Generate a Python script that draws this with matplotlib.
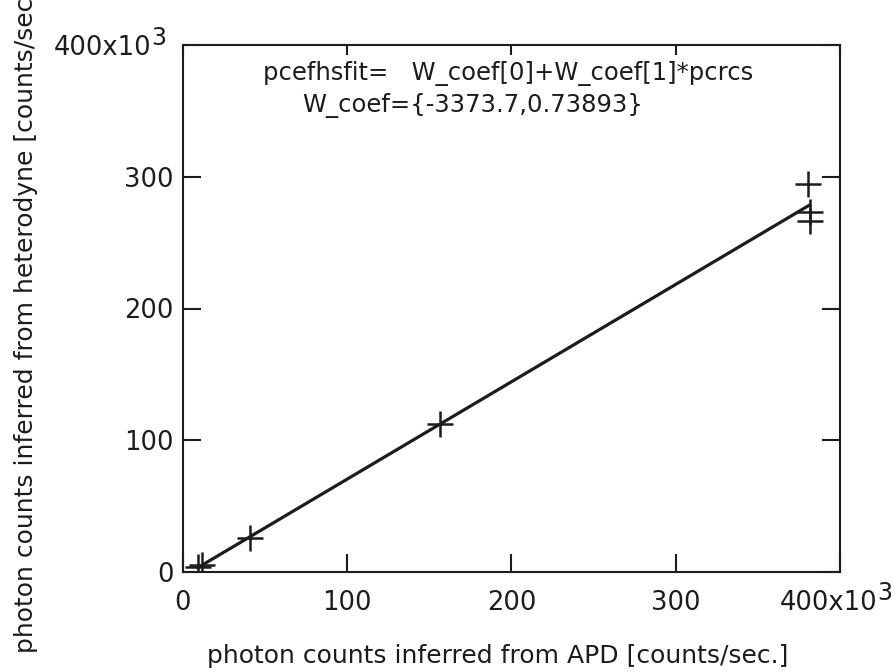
import matplotlib
matplotlib.use("Agg")
import matplotlib.pyplot as plt
import numpy as np
from matplotlib.transforms import ScaledTranslation

plt.rcParams['font.family'] = ['DejaVu Sans']

# data (counts/sec)
apd_counts = [9.0e3, 11.5e3, 40.5e3, 156.5e3, 380.7e3, 381.5e3, 381.5e3]
het_counts = [3.5e3, 5.5e3, 25.5e3, 112.5e3, 294.5e3, 273.5e3, 266.5e3]
W_coef = [-3373.7, 0.73893]
x_ticks = [0, 100e3, 200e3, 300e3, 400e3]
x_ticklabels = ['0', '100', '200', '300', '400x10']
y_ticks = [0, 100e3, 200e3, 300e3, 400e3]
y_ticklabels = ['0', '100', '200', '300', '400x10']
tick_exponent = '3'

ink = '#1c1c1c'
fig = plt.figure(figsize=(8.95, 6.72), dpi=100)
ax = fig.add_axes([183/895, 1-572/672, (840-183)/895, (572-45)/672])

ax.plot(apd_counts, het_counts, linestyle='none', marker='+', markersize=19,
        markeredgewidth=1.8, color=ink)
xf = np.array([min(apd_counts), max(apd_counts)])
ax.plot(xf, W_coef[0] + W_coef[1]*xf, color=ink, linewidth=2.3)

ax.set_xlim(0, 400e3)
ax.set_ylim(0, 400e3)
ax.set_xticks(x_ticks)
ax.set_xticklabels(x_ticklabels)
ax.set_yticks(y_ticks)
ax.set_yticklabels(y_ticklabels)
for s in ax.spines.values():
    s.set_linewidth(1.5)
    s.set_color(ink)
tick_fs = 18.5
ax.tick_params(axis='both', which='major', direction='in', length=13, width=1.5,
               color=ink, labelsize=tick_fs, labelcolor=ink)
ax.tick_params(axis='x', top=True, bottom=True, pad=13)
ax.tick_params(axis='y', left=True, right=True, pad=7)
for t in ax.xaxis.get_major_ticks():
    t.tick2line.set_markersize(7)

# shift the "400x10" labels to make room for the full-size exponent
xl = ax.xaxis.get_majorticklabels()[-1]
xl.set_transform(xl.get_transform() + ScaledTranslation(-8/72, 0, fig.dpi_scale_trans))
yl = ax.yaxis.get_majorticklabels()[-1]
yl.set_transform(yl.get_transform() + ScaledTranslation(-16/72, 0, fig.dpi_scale_trans))

ax.text(0.1218, 0.9336, 'pcefhsfit=   W_coef[0]+W_coef[1]*pcrcs', transform=ax.transAxes,
        ha='left', va='baseline', fontsize=17.5, color=ink)
ax.text(0.1811, 0.8729, 'W_coef={%.1f,%.5f}' % (W_coef[0], W_coef[1]), transform=ax.transAxes,
        ha='left', va='baseline', fontsize=17.5, color=ink)

fig.text(498/895, 1-663/672, 'photon counts inferred from APD [counts/sec.]',
         ha='center', va='baseline', fontsize=18, color=ink)
fig.text(33/895, 1-653/672, 'photon counts inferred from heterodyne [counts/sec.]',
         ha='left', va='baseline', rotation=90, rotation_mode='anchor', fontsize=18, color=ink)

fig.canvas.draw()
r = fig.canvas.get_renderer()
for lab in (xl, yl):
    bb = lab.get_window_extent(r)
    fig.text(bb.x1 / fig.bbox.width, (bb.y0 + 11) / fig.bbox.height, tick_exponent,
             ha='left', va='bottom', fontsize=tick_fs * 0.92, color=ink)

fig.savefig('out.png', dpi=100)
